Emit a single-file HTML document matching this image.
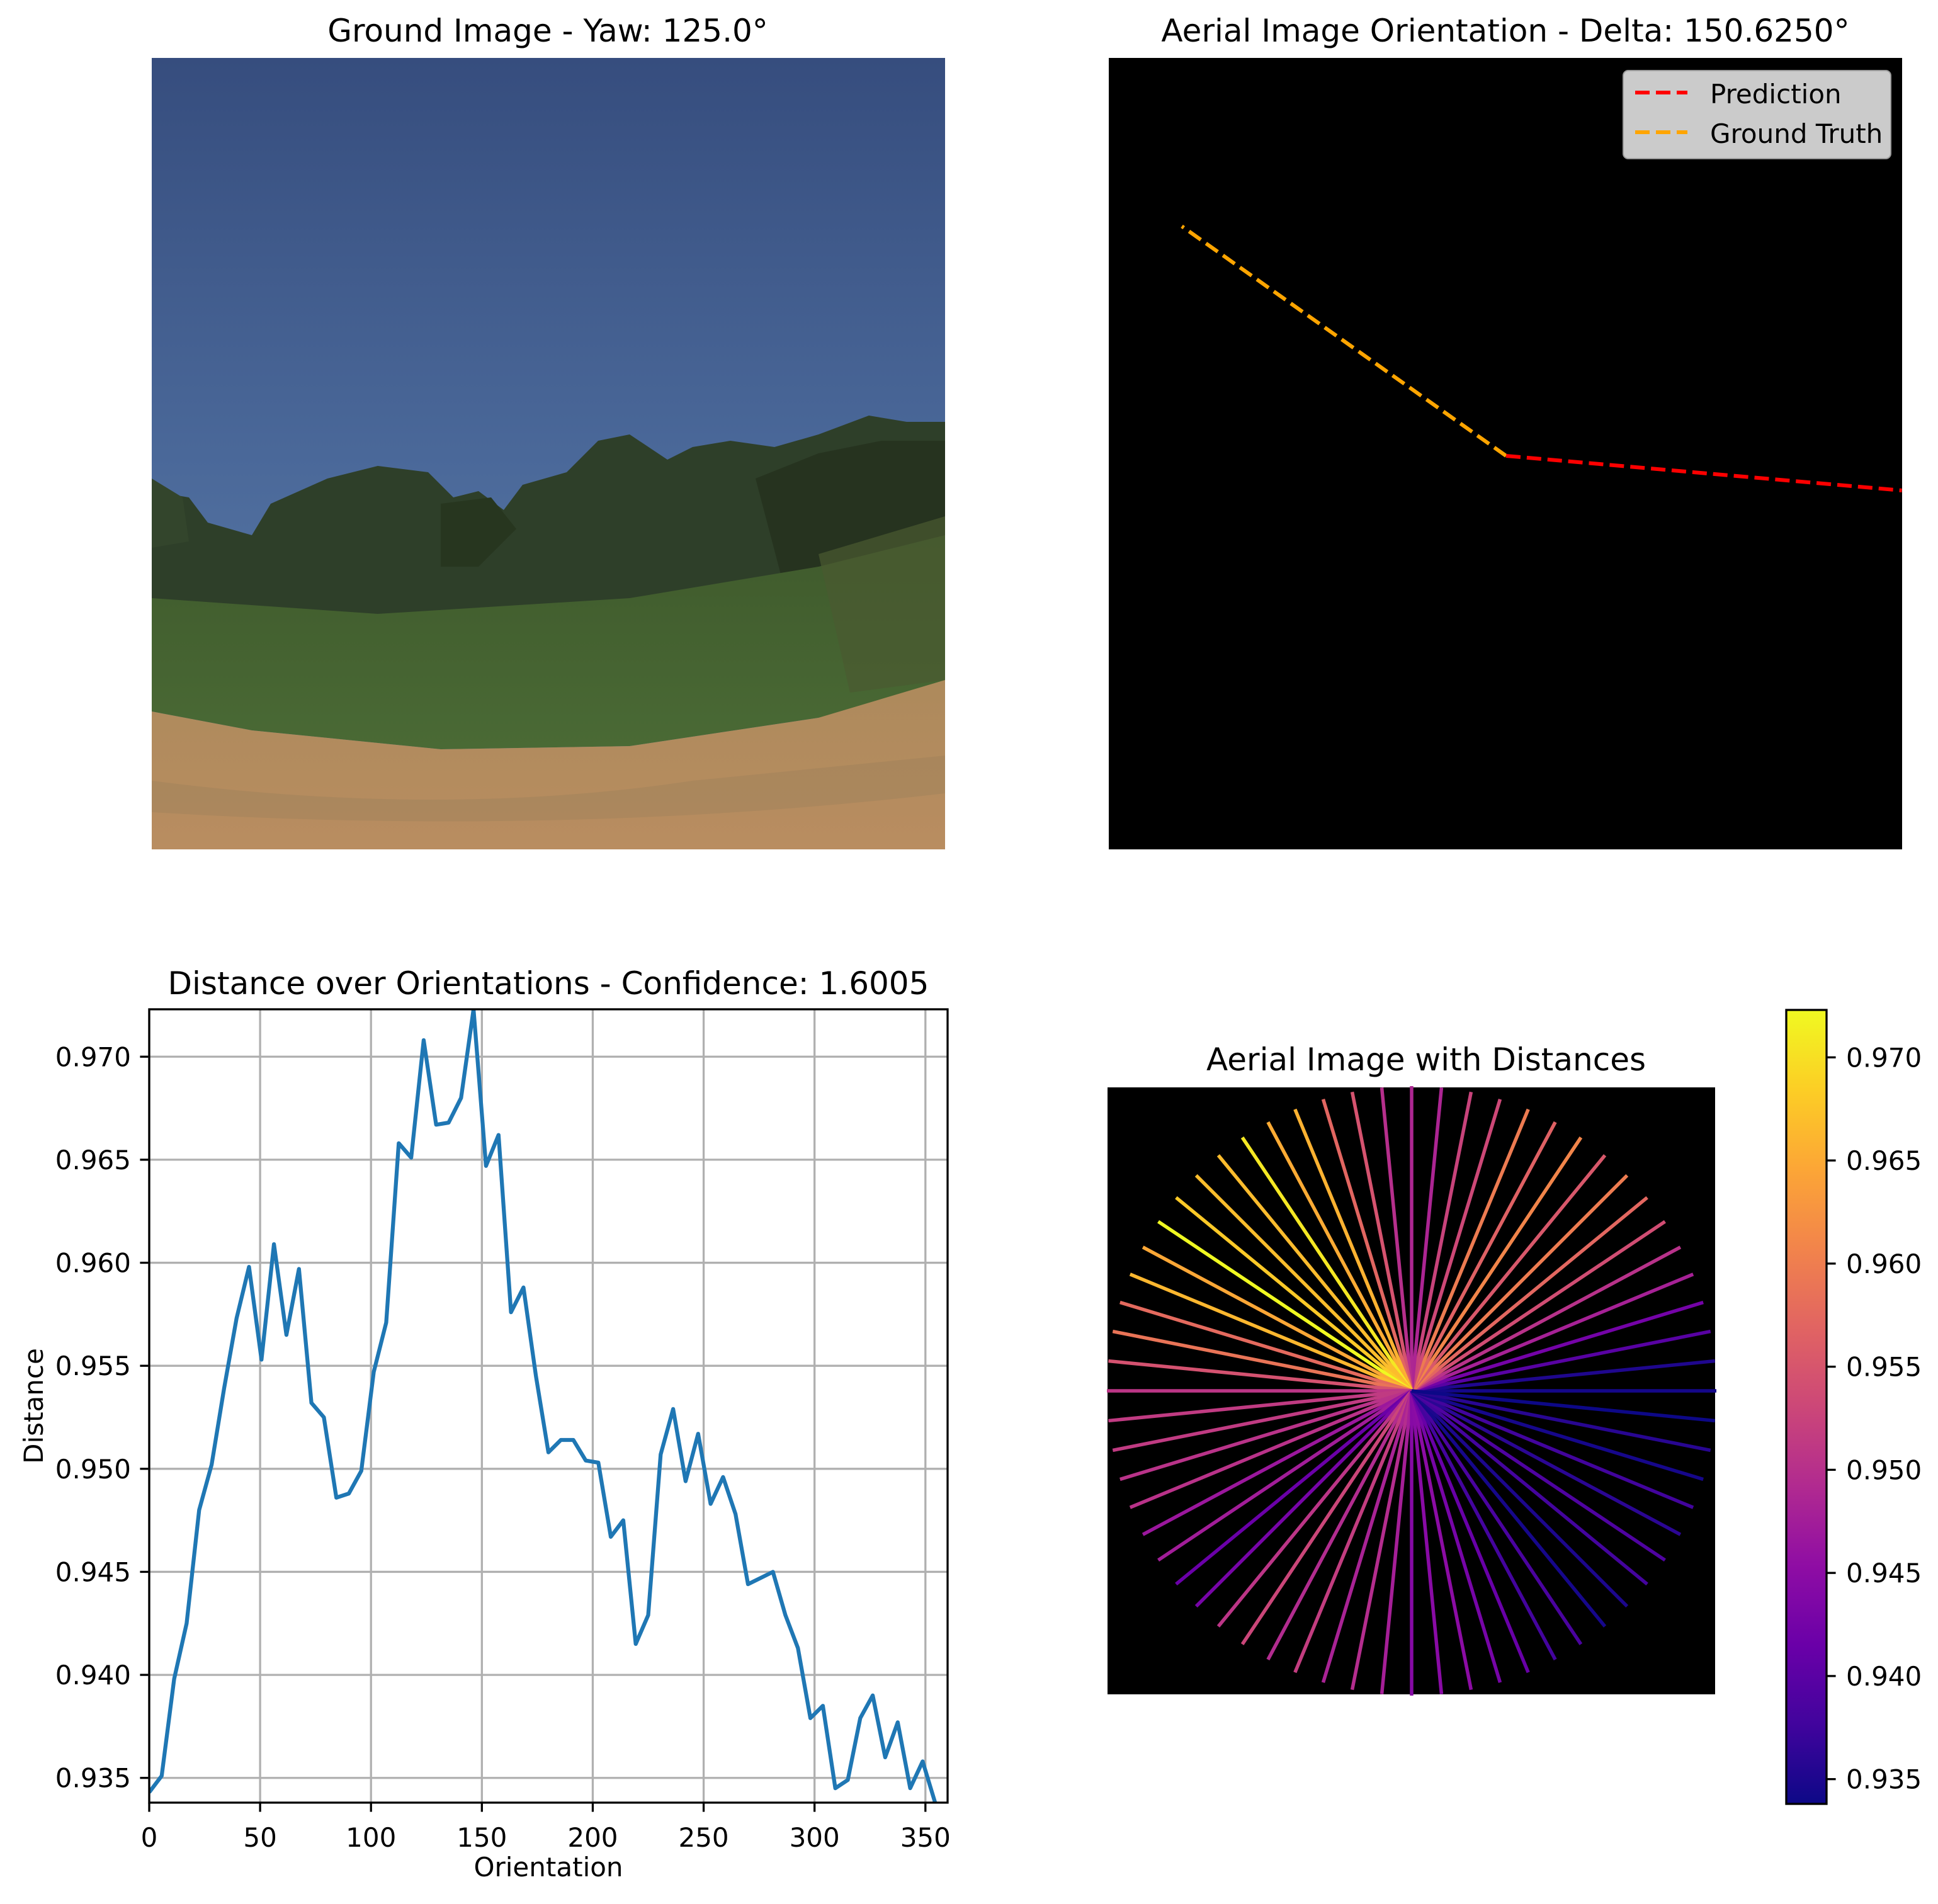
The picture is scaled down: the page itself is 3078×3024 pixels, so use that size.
<!DOCTYPE html>
<html><head><meta charset="utf-8">
<style>
html,body{margin:0;padding:0;background:#fff;}
svg{display:block;font-family:"DejaVu Sans","Liberation Sans",sans-serif;}
</style></head>
<body>
<svg id="fig" width="3078" height="3024" viewBox="0 0 3078 3024" xmlns="http://www.w3.org/2000/svg">
<defs>
 <linearGradient id="sky" x1="0" y1="0" x2="0" y2="1">
  <stop offset="0" stop-color="#364d7e"/><stop offset="0.5" stop-color="#4a6899"/><stop offset="1" stop-color="#6282ad"/>
 </linearGradient>
 <linearGradient id="field" x1="0" y1="0" x2="0" y2="1">
  <stop offset="0" stop-color="#3f5a2c"/><stop offset="1" stop-color="#4a6a35"/>
 </linearGradient>
 <linearGradient id="grass" x1="0" y1="0" x2="0" y2="1">
  <stop offset="0" stop-color="#ad8a5c"/><stop offset="1" stop-color="#b98d60"/>
 </linearGradient>
 <linearGradient id="cbar" x1="0" y1="1" x2="0" y2="0">
  <stop offset="0" stop-color="#0d0887"/><stop offset="0.1" stop-color="#41049d"/><stop offset="0.2" stop-color="#6a00a8"/>
  <stop offset="0.3" stop-color="#8f0da4"/><stop offset="0.4" stop-color="#b12a90"/><stop offset="0.5" stop-color="#cc4778"/>
  <stop offset="0.6" stop-color="#e16462"/><stop offset="0.7" stop-color="#f2844b"/><stop offset="0.8" stop-color="#fca636"/>
  <stop offset="0.9" stop-color="#fcce25"/><stop offset="1" stop-color="#f0f921"/>
 </linearGradient>
 <clipPath id="photoClip"><rect x="241" y="92" width="1260" height="1257"/></clipPath>
 <clipPath id="trClip"><rect x="1761" y="92" width="1260" height="1257"/></clipPath>
 <clipPath id="blClip"><rect x="237" y="1603" width="1268" height="1260"/></clipPath>
</defs>

<!-- Ground image -->
<text x="870" y="66" font-size="50" text-anchor="middle">Ground Image - Yaw: 125.0°</text>
<g clip-path="url(#photoClip)">
 <rect x="241" y="92" width="1260" height="1257" fill="url(#sky)"/>
 <path d="M241 780 L300 790 L330 830 L400 850 L430 800 L520 760 L600 740 L680 750 L720 790 L760 780 L800 810 L830 770 L900 750 L950 700 L1000 690 L1060 730 L1100 710 L1160 700 L1230 710 L1300 690 L1380 660 L1440 670 L1501 670 L1501 1000 L241 1000 Z" fill="#2e3f29"/>
 <path d="M241 760 L290 790 L300 860 L241 870 Z" fill="#33452c"/>
 <path d="M700 800 L780 790 L820 840 L760 900 L700 900 Z" fill="#27361f"/>
 <path d="M1200 760 L1300 720 L1400 700 L1501 700 L1501 900 L1250 950 Z" fill="#26331f"/>
 <path d="M241 950 L600 975 L1000 950 L1300 900 L1501 850 L1501 1090 L1300 1140 L1000 1185 L700 1190 L400 1160 L241 1130 Z" fill="url(#field)"/>
 <path d="M1300 880 L1501 820 L1501 1080 L1350 1100 Z" fill="#4a5a30" opacity="0.7"/>
 <path d="M241 1130 L400 1160 L700 1190 L1000 1185 L1300 1140 L1501 1080 L1501 1349 L241 1349 Z" fill="url(#grass)"/>
 <path d="M241 1240 Q700 1300 1100 1240 L1501 1200 L1501 1260 Q900 1330 241 1290 Z" fill="#9a805a" opacity="0.4"/>
</g>

<!-- Aerial orientation -->
<text x="2391" y="66" font-size="50" text-anchor="middle">Aerial Image Orientation - Delta: 150.6250°</text>
<rect x="1761" y="92" width="1260" height="1257" fill="#000"/>
<g id="orient" clip-path="url(#trClip)"></g>
<g>
 <rect x="2578" y="112" width="425" height="140" rx="8" fill="#cbcbcb" stroke="#9a9a9a" stroke-width="2"/>
 <line x1="2597" y1="147" x2="2680" y2="147" stroke="#ff0000" stroke-width="6" stroke-dasharray="23 10"/>
 <text x="2716" y="164" font-size="42">Prediction</text>
 <line x1="2597" y1="210" x2="2680" y2="210" stroke="#ffa500" stroke-width="6" stroke-dasharray="23 10"/>
 <text x="2716" y="227" font-size="42">Ground Truth</text>
</g>

<!-- Distance plot -->
<text x="871" y="1579" font-size="50" text-anchor="middle">Distance over Orientations - Confidence: 1.6005</text>
<g id="bl"></g>
<text transform="translate(68,2233) rotate(-90)" font-size="42" text-anchor="middle">Distance</text>
<text x="871" y="2980" font-size="42" text-anchor="middle">Orientation</text>

<!-- Aerial with distances -->
<text x="2265" y="1700" font-size="50" text-anchor="middle">Aerial Image with Distances</text>
<rect x="1759" y="1727" width="965" height="964" fill="#000"/>
<g id="rays"></g>
<rect x="2837" y="1604" width="64" height="1261" fill="url(#cbar)" stroke="#000" stroke-width="3.3"/>
<g id="cbticks"></g>
</svg>

<script>
const NS = "http://www.w3.org/2000/svg";
// ---- data ----
const orientations = [0,5.625,11.25,16.875,22.5,28.125,33.75,39.375,45,50.625,56.25,61.875,67.5,73.125,78.75,84.375,90,95.625,101.25,106.875,112.5,118.125,123.75,129.375,135,140.625,146.25,151.875,157.5,163.125,168.75,174.375,180,185.625,191.25,196.875,202.5,208.125,213.75,219.375,225,230.625,236.25,241.875,247.5,253.125,258.75,264.375,270,275.625,281.25,286.875,292.5,298.125,303.75,309.375,315,320.625,326.25,331.875,337.5,343.125,348.75,354.375];
const distances = [0.9343,0.9351,0.9398,0.9425,0.9480,0.9502,0.9539,0.9573,0.9598,0.9553,0.9609,0.9565,0.9597,0.9532,0.9525,0.9486,0.9488,0.9499,0.9547,0.9571,0.9658,0.9651,0.9708,0.9667,0.9668,0.9680,0.9723,0.9647,0.9662,0.9576,0.9588,0.9545,0.9508,0.9514,0.9514,0.9504,0.9503,0.9467,0.9475,0.9415,0.9429,0.9507,0.9529,0.9494,0.9517,0.9483,0.9496,0.9478,0.9444,0.9447,0.9450,0.9429,0.9413,0.9379,0.9385,0.9345,0.9349,0.9379,0.9390,0.9360,0.9377,0.9345,0.9358,0.9338];
const yTicks = [0.935,0.940,0.945,0.950,0.955,0.960,0.965,0.970];
const yTickLabels = ["0.935","0.940","0.945","0.950","0.955","0.960","0.965","0.970"];
const xTicks = [0,50,100,150,200,250,300,350];
const xTickLabels = ["0","50","100","150","200","250","300","350"];
const predAngle = [-5.0];
const gtAngle = [144.7];

function el(tag, attrs, parent){const e=document.createElementNS(NS,tag);for(const k in attrs)e.setAttribute(k,attrs[k]);parent.appendChild(e);return e;}

const vmin = Math.min(...distances), vmax = Math.max(...distances);
// ---- bottom-left line chart ----
const AX={l:237,r:1505,t:1603,b:2863};
const xs=v=>AX.l+(v-0)/(360-0)*(AX.r-AX.l);
const ys=v=>AX.b-(v-vmin)/(vmax-vmin)*(AX.b-AX.t);
const bl=document.getElementById('bl');
yTicks.forEach((t,i)=>{
 const y=ys(t);
 const g=el('line',{x1:AX.l,x2:AX.r,y1:y,y2:y,stroke:'#b0b0b0','stroke-width':3.3},bl);
 
 
 el('line',{x1:AX.l-14.6,x2:AX.l,y1:y,y2:y,stroke:'#000','stroke-width':3.3},bl);
 const tx=el('text',{x:AX.l-29,y:y+15,'font-size':42,'text-anchor':'end'},bl);
 tx.textContent=yTickLabels[i];
 
 
});
xTicks.forEach((t,i)=>{
 const x=xs(t);
 const g=el('line',{x1:x,x2:x,y1:AX.t,y2:AX.b,stroke:'#b0b0b0','stroke-width':3.3},bl);
 
 
 el('line',{x1:x,x2:x,y1:AX.b,y2:AX.b+14.6,stroke:'#000','stroke-width':3.3},bl);
 const tx=el('text',{x:x,y:AX.b+70,'font-size':42,'text-anchor':'middle'},bl);
 tx.textContent=xTickLabels[i];
 
 
});
const pts=orientations.map((o,i)=>xs(o).toFixed(1)+','+ys(distances[i]).toFixed(1)).join(' ');
const pl=el('polyline',{points:pts,fill:'none',stroke:'#1f77b4','stroke-width':6.25,'stroke-linejoin':'round','clip-path':'url(#blClip)'},bl);


const fr=el('rect',{x:AX.l,y:AX.t,width:AX.r-AX.l,height:AX.b-AX.t,fill:'none',stroke:'#000','stroke-width':3.3},bl);



// ---- plasma colormap ----
const stops=[[13,8,135],[65,4,157],[106,0,168],[143,13,164],[177,42,144],[204,71,120],[225,100,98],[242,132,75],[252,166,54],[252,206,37],[240,249,33]];
function plasma(t){t=Math.max(0,Math.min(1,t));const f=t*10,i=Math.min(9,Math.floor(f)),u=f-i;const a=stops[i],b=stops[i+1];
 return 'rgb('+a.map((c,k)=>Math.round(c+(b[k]-c)*u)).join(',')+')';}

// ---- rays ----
const rays=document.getElementById('rays');
const cx=2242, cy=2209, R=484;
orientations.forEach((o,i)=>{
 const a=o*Math.PI/180;
 const ln=el('line',{x1:cx,y1:cy,x2:cx+R*Math.cos(a),y2:cy-R*Math.sin(a),stroke:plasma((distances[i]-vmin)/(vmax-vmin)),'stroke-width':5.5},rays);
 
 
});

// ---- colorbar ticks ----
const cb=document.getElementById('cbticks');
const CB={t:1604,b:2865,r:2901};
yTicks.forEach((t,i)=>{
 const y=CB.b-(t-vmin)/(vmax-vmin)*(CB.b-CB.t);
 el('line',{x1:CB.r,x2:CB.r+14.6,y1:y,y2:y,stroke:'#000','stroke-width':3.3},cb);
 const tx=el('text',{x:2932,y:y+15,'font-size':42},cb);
 tx.textContent=yTickLabels[i];
 
 
});

// ---- orientation lines ----
const og=document.getElementById('orient');
const ocx=2392, ocy=724, OR=631;
[[gtAngle[0],'#ffa500','ground-truth-line'],[predAngle[0],'#ff0000','prediction-line']].forEach(([ang,col,nm])=>{
 const a=ang*Math.PI/180;
 const ln=el('line',{x1:ocx,y1:ocy,x2:ocx+OR*Math.cos(a),y2:ocy-OR*Math.sin(a),stroke:col,'stroke-width':6,'stroke-dasharray':'23 10'},og);
 
 
});
</script>
</body></html>
